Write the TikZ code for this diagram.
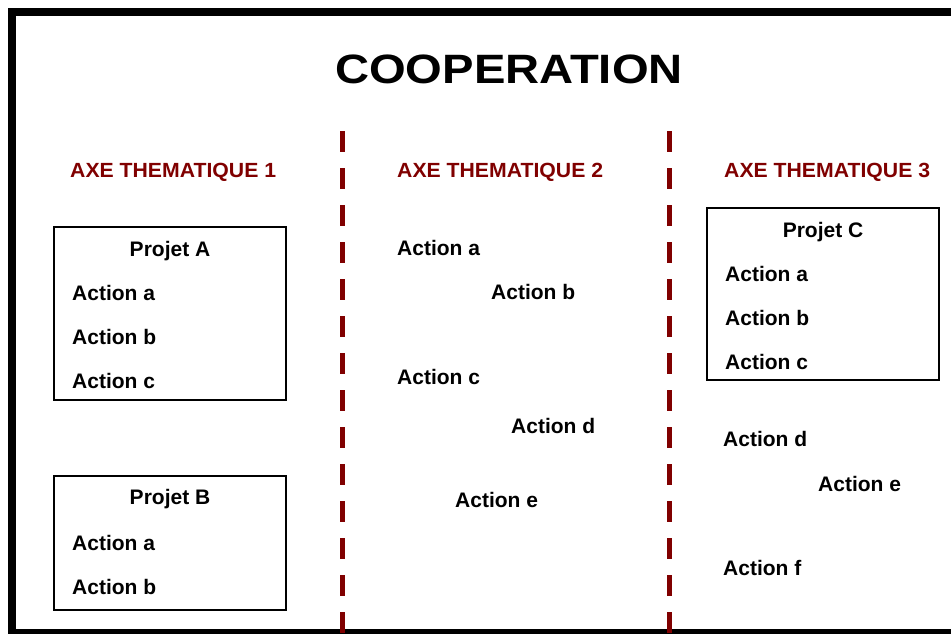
\documentclass[tikz,border=0pt]{standalone}
\usepackage{fontspec}
\setmainfont{Liberation Sans}
\usepackage{tikz}
\usetikzlibrary{positioning}
\definecolor{axered}{RGB}{128,0,0}
\tikzstyle{titre} = [font=\fontsize{41}{46}\selectfont\bfseries, inner sep=0, anchor=base]
\tikzstyle{axe}   = [font=\fontsize{20.5}{24}\selectfont\bfseries, text=axered, inner sep=0, anchor=base west]
\tikzstyle{act}   = [font=\fontsize{21}{24}\selectfont\bfseries, inner sep=0, anchor=base west]
\tikzstyle{proj}  = [font=\fontsize{21}{24}\selectfont\bfseries, inner sep=0, anchor=base]
\tikzstyle{cadre} = [draw, line width=1.5pt]
\tikzstyle{sep}   = [draw=axered, line width=5pt, dash pattern=on 21pt off 16pt]

% wide lettering
\newcommand{\etire}[2]{\scalebox{#1}[1]{#2}}

\begin{document}
\begin{tikzpicture}[x=1pt, y=-1pt]

\useasboundingbox (0,0) rectangle (951,633);

% outer frame
\draw [line width=8pt] (12,11.5) rectangle (1000,633);

% column separators
\draw [sep] (342.5,131) -- (342.5,633);
\draw [sep] (669.5,131) -- (669.5,633);

% title and headings
\node [titre] at ( 509 ,  83 )   (titre) {\etire{1.15}{COOPERATION}};
\node [axe]   at (  70 , 177.5 ) (axe1)  {\etire{1.035}{AXE THEMATIQUE 1}};
\node [axe]   at ( 397 , 177.5 ) (axe2)  {\etire{1.035}{AXE THEMATIQUE 2}};
\node [axe]   at ( 724 , 177.5 ) (axe3)  {\etire{1.035}{AXE THEMATIQUE 3}};

% projects
\draw [cadre] (54,227) rectangle (286,400);
\draw [cadre] (54,476) rectangle (286,610);
\draw [cadre] (707,208) rectangle (939,380);

% axe 1
\node [proj] at ( 170 , 256 )   (pA)  {Projet A};
\node [act]  at (  72 , 300 )   (pAa) {Action a};
\node [act]  at (  72 , 344 )   (pAb) {Action b};
\node [act]  at (  72 , 388.5 ) (pAc) {Action c};
\node [proj] at ( 170 , 504.5 ) (pB)  {Projet B};
\node [act]  at (  72 , 550.5 ) (pBa) {Action a};
\node [act]  at (  72 , 594 )   (pBb) {Action b};

% axe 2
\node [act]  at ( 397 , 255 )   (a2a) {Action a};
\node [act]  at ( 491 , 299 )   (a2b) {Action b};
\node [act]  at ( 397 , 384.5 ) (a2c) {Action c};
\node [act]  at ( 511 , 433.5 ) (a2d) {Action d};
\node [act]  at ( 455 , 507.5 ) (a2e) {Action e};

% axe 3
\node [proj] at ( 823 , 237 )   (pC)  {Projet C};
\node [act]  at ( 725 , 281 )   (pCa) {Action a};
\node [act]  at ( 725 , 325 )   (pCb) {Action b};
\node [act]  at ( 725 , 369 )   (pCc) {Action c};
\node [act]  at ( 723 , 446.5 ) (a3d) {Action d};
\node [act]  at ( 818 , 491.5 ) (a3e) {Action e};
\node [act]  at ( 723 , 575.5 ) (a3f) {Action f};

\end{tikzpicture}
\end{document}
